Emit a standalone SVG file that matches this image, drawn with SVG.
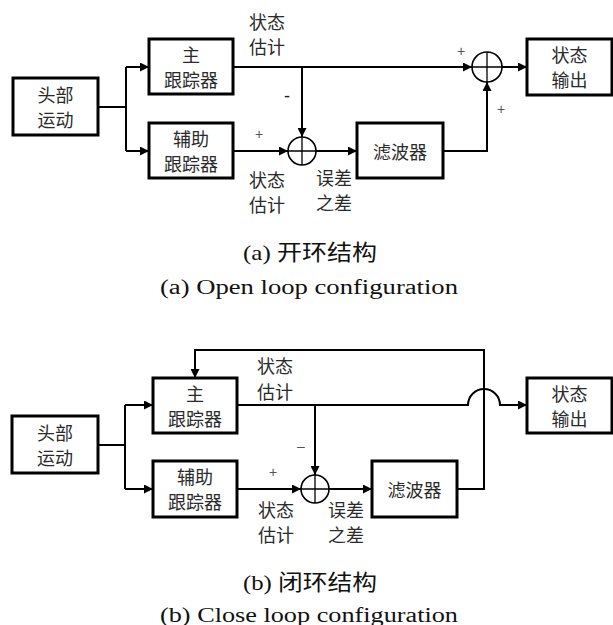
<svg xmlns="http://www.w3.org/2000/svg" width="613" height="625" viewBox="0 0 613 625">
  <style>
    .box { fill: #fff; stroke: #000; stroke-width: 3; }
    .line { fill: none; stroke: #000; stroke-width: 2; }
    .arr { fill: none; stroke: #000; stroke-width: 2; marker-end: url(#ah); }
    .sum { fill: #fff; stroke: #000; stroke-width: 1.6; }
    .cross { stroke: #000; stroke-width: 1.3; }
    .t { font-family: "Noto Sans CJK SC", sans-serif; font-size: 18px; fill: #2a2a2a; text-anchor: middle; dominant-baseline: central; }
    .sign { font-family: "Liberation Sans", sans-serif; font-size: 14px; fill: #555; text-anchor: middle; dominant-baseline: central; }
    .cap { font-family: "Liberation Serif", "Noto Sans CJK SC", serif; font-size: 20px; fill: #111; text-anchor: middle; }
    .capz { font-family: "Liberation Serif", "Noto Sans CJK SC", serif; font-size: 22px; fill: #111; text-anchor: middle; }
  </style>
  <defs>
    <marker id="ah" viewBox="0 0 10 10" refX="10" refY="5" markerWidth="10" markerHeight="9" markerUnits="userSpaceOnUse" orient="auto">
      <path d="M0,0 L10,5 L0,10 z" fill="#000"/>
    </marker>
  </defs>

  <!-- (a) open loop -->
  <g id="connectors-a">
    <path class="line" d="M98,107 H126 M126,67 V151"/>
    <path class="arr" d="M126,67 H149"/>
    <path class="arr" d="M126,151 H149"/>
    <path class="arr" d="M233,67 H472"/>
    <path class="arr" d="M302,67 V137"/>
    <path class="arr" d="M233,151 H288"/>
    <path class="arr" d="M316,151 H357"/>
    <path class="arr" d="M443,151 H487 V82"/>
    <path class="arr" d="M502,67 H527"/>
  </g>
  <g id="a-head"><rect class="box" x="13" y="78" width="85" height="57"/><text class="t" x="55.5" y="94">头部</text><text class="t" x="55.5" y="119">运动</text></g>
  <g id="a-main"><rect class="box" x="149" y="39" width="84" height="55"/><text class="t" x="191" y="54">主</text><text class="t" x="191" y="79">跟踪器</text></g>
  <g id="a-aux"><rect class="box" x="149" y="123" width="84" height="55"/><text class="t" x="191" y="138">辅助</text><text class="t" x="191" y="163">跟踪器</text></g>
  <g id="a-sum1"><circle class="sum" cx="302" cy="151" r="14"/><path class="cross" d="M288,151 H316 M302,137 V165"/></g>
  <g id="a-filter"><rect class="box" x="357" y="123" width="86" height="55"/><text class="t" x="400" y="151">滤波器</text></g>
  <g id="a-sum2"><circle class="sum" cx="487" cy="67" r="15"/><path class="cross" d="M472,67 H502 M487,52 V82"/></g>
  <g id="a-out"><rect class="box" x="527" y="39" width="85" height="56"/><text class="t" x="569.5" y="54">状态</text><text class="t" x="569.5" y="79">输出</text></g>
  <g id="a-labels">
    <text class="t" x="267" y="21">状态</text><text class="t" x="267" y="46">估计</text>
    <text class="t" x="267" y="179">状态</text><text class="t" x="267" y="204">估计</text>
    <text class="t" x="334" y="177">误差</text><text class="t" x="334" y="202">之差</text>
    <text class="sign" x="287" y="96" style="font-size:18px;fill:#222">-</text>
    <text class="sign" x="259" y="134">+</text>
    <text class="sign" x="461" y="51">+</text>
    <text class="sign" x="501" y="109">+</text>
  </g>
  <text class="capz" x="310" y="260" textLength="134" lengthAdjust="spacingAndGlyphs">(a) 开环结构</text>
  <text class="cap" x="309" y="294" textLength="298" lengthAdjust="spacingAndGlyphs">(a) Open loop configuration</text>

  <!-- (b) closed loop -->
  <g id="connectors-b">
    <path class="line" d="M98,445 H125 M125,405 V489"/>
    <path class="arr" d="M125,405 H153"/>
    <path class="arr" d="M125,489 H153"/>
    <path class="arr" d="M237,405 H468 A16,16 0 0 1 500,405 H527"/>
    <path class="arr" d="M315,405 V475"/>
    <path class="arr" d="M237,489 H301"/>
    <path class="arr" d="M329,489 H372"/>
    <path class="arr" d="M457,489 H484 V350 H195 V378"/>
  </g>
  <g id="b-head"><rect class="box" x="12" y="416" width="86" height="57"/><text class="t" x="55" y="432">头部</text><text class="t" x="55" y="457">运动</text></g>
  <g id="b-main"><rect class="box" x="153" y="378" width="84" height="55"/><text class="t" x="195" y="393">主</text><text class="t" x="195" y="418">跟踪器</text></g>
  <g id="b-aux"><rect class="box" x="153" y="461" width="84" height="56"/><text class="t" x="195" y="476">辅助</text><text class="t" x="195" y="501">跟踪器</text></g>
  <g id="b-sum"><circle class="sum" cx="315" cy="489" r="14"/><path class="cross" d="M301,489 H329 M315,475 V503"/></g>
  <g id="b-filter"><rect class="box" x="372" y="461" width="85" height="56"/><text class="t" x="414.5" y="489">滤波器</text></g>
  <g id="b-out"><rect class="box" x="527" y="378" width="85" height="55"/><text class="t" x="569.5" y="393">状态</text><text class="t" x="569.5" y="418">输出</text></g>
  <g id="b-labels">
    <text class="t" x="275" y="365">状态</text><text class="t" x="275" y="391">估计</text>
    <text class="t" x="276" y="509">状态</text><text class="t" x="276" y="534">估计</text>
    <text class="t" x="346" y="509">误差</text><text class="t" x="346" y="534">之差</text>
    <text class="sign" x="301" y="446">–</text>
    <text class="sign" x="273" y="472">+</text>
  </g>
  <text class="capz" x="310" y="590" textLength="134" lengthAdjust="spacingAndGlyphs">(b) 闭环结构</text>
  <text class="cap" x="309" y="622" textLength="298" lengthAdjust="spacingAndGlyphs">(b) Close loop configuration</text>
</svg>
